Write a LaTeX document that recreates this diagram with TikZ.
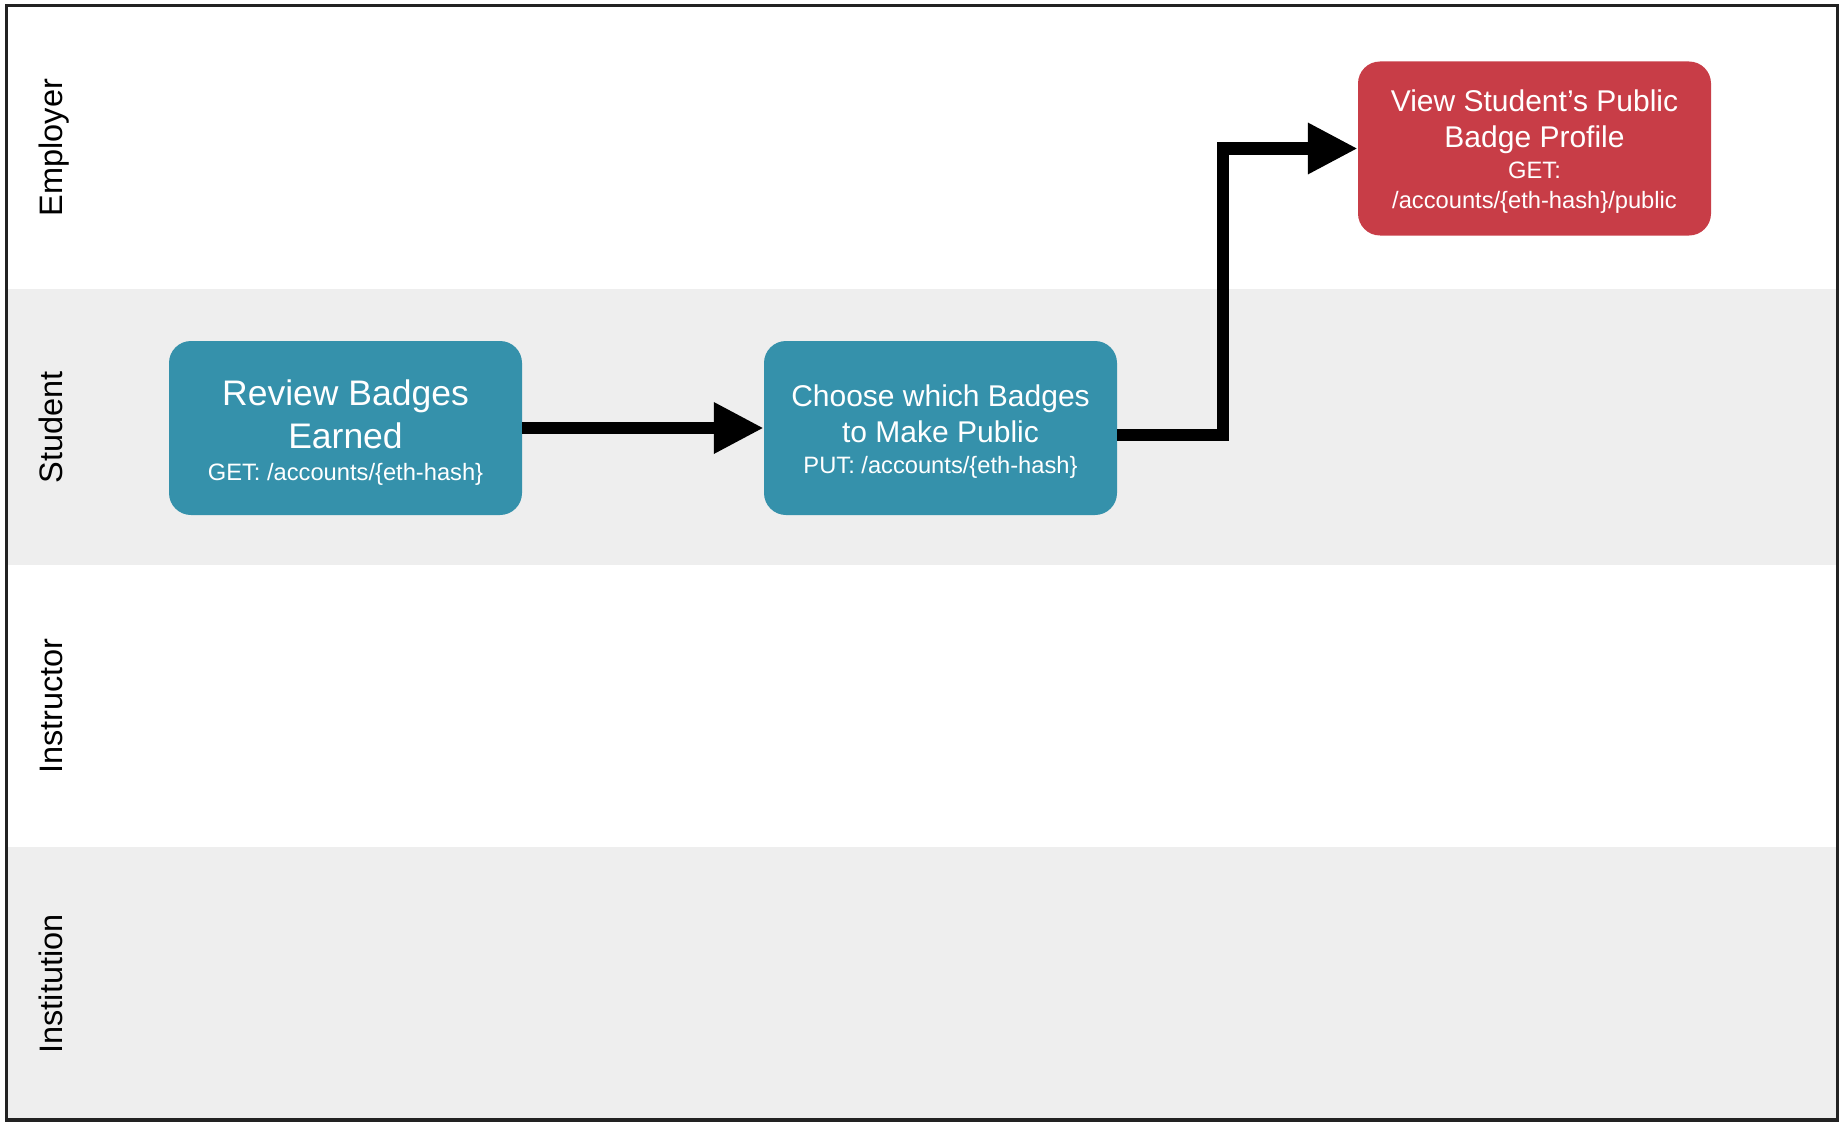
\documentclass[tikz,border=0pt]{standalone}
\usepackage{fontspec}
\setmainfont{Liberation Sans}
\usetikzlibrary{arrows.meta}
\definecolor{lanegray}{HTML}{EEEEEE}
\definecolor{boxteal}{HTML}{3591AB}
\definecolor{boxred}{HTML}{C83D47}
\definecolor{framecol}{HTML}{222222}
\newcommand\subfont{\fontsize{23.7}{28}\selectfont}
\begin{document}
\begin{tikzpicture}[x=1pt,y=-1pt,
  lanelabel/.style={rotate=90,anchor=base,font=\fontsize{32.5}{39}\selectfont,inner sep=0pt},
  task/.style={rounded corners=22pt,minimum width=353pt,minimum height=174pt,inner sep=0pt,text=white,align=center},
  flow/.style={line width=12.5pt,-{Triangle[length=50pt,width=48pt]}}]
\useasboundingbox (0,0) rectangle (1846,1126);
% lanes
\fill[lanegray] (6.5,289) rectangle (1837.5,565);
\fill[lanegray] (6.5,847) rectangle (1837.5,1120);
\draw[framecol,line width=3.5pt] (6.5,5.5) rectangle (1837.5,1120);
% lane labels
\node[lanelabel] (lemp) at (62,147.5) {Employer};
\node[lanelabel] (lstu) at (62,427) {Student};
\node[lanelabel] (lins) at (62,706) {Instructor};
\node[lanelabel] (linst) at (62,984) {Institution};
% tasks
\node[task,fill=boxteal,font=\fontsize{35.5}{43}\selectfont] (review) at (345.5,428)
  {\rule{0pt}{35pt}Review Badges\\Earned\\[-11pt]\subfont GET: /accounts/\{eth-hash\}};
\node[task,fill=boxteal,font=\fontsize{30}{36}\selectfont] (choose) at (940.5,428)
  {\rule{0pt}{28pt}Choose which Badges\\to Make Public\\[-5pt]\subfont PUT: /accounts/\{eth-hash\}};
\node[task,fill=boxred,font=\fontsize{30}{36}\selectfont] (view) at (1534.5,148.5)
  {\rule{0pt}{27pt}View Student’s Public\\Badge Profile\\[-5pt]\subfont GET:\\[-6pt]\subfont /accounts/\{eth-hash\}/public};
% connectors
\draw[flow] (review.east) -- (choose.west);
\draw[flow] ([yshift=-7pt]choose.east) -- ++(106,0) |- (view.west);
\end{tikzpicture}
\end{document}
